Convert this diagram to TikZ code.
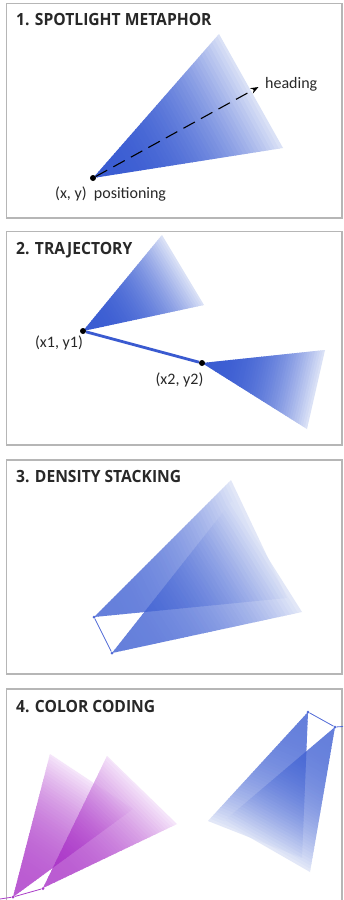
\documentclass[tikz,border=0pt]{standalone}
\usepackage{fontspec}
\setmainfont{Carlito}
\newfontfamily\titlefont{Open Sans}[FakeStretch=0.93]
\usetikzlibrary{arrows.meta}
\definecolor{framegray}{RGB}{182,182,182}
\definecolor{bluedark}{RGB}{58,92,210}
\definecolor{bluelight}{RGB}{222,228,247}
\definecolor{purpdark}{RGB}{165,40,196}
\definecolor{purplight}{RGB}{245,226,250}
\definecolor{trajblue}{RGB}{58,90,208}
\definecolor{thinblue}{RGB}{80,105,215}
\definecolor{thinpurp}{RGB}{170,60,200}
\definecolor{inkgray}{RGB}{40,40,40}
\tikzset{
  panel/.style={draw=framegray, line width=1.2pt},
  paneltitle/.style={font=\titlefont\bfseries\fontsize{16.8}{18}\selectfont, text=inkgray, inner sep=0pt, anchor=base west},
  lbl/.style={font=\fontsize{16}{18}\selectfont, text=inkgray, inner sep=0pt},
  bigdot/.style={circle, fill=black, inner sep=0pt, minimum size=6pt},
  smalldot/.style={circle, fill=#1, inner sep=0pt, minimum size=3pt},
}
% #1,#2 apex; #3,#4 and #5,#6 far corners; #7 colour prefix; #8 opacity
\newcommand\spotcone[8]{%
  \pgfmathsetmacro\spdx{(#3+#5)/2-(#1)}%
  \pgfmathsetmacro\spdy{(#2)-(#4+#6)/2}%
  \pgfmathsetmacro\spang{atan2(\spdy,\spdx)}%
  \pgfmathsetmacro\spLa{(#3-(#1))*cos(\spang)+((#2)-(#4))*sin(\spang)}%
  \pgfmathsetmacro\spLb{(#5-(#1))*cos(\spang)+((#2)-(#6))*sin(\spang)}%
  \pgfmathsetmacro\spL{max(\spLa,\spLb)}%
  \begin{scope}[transparency group, opacity=#8]
    \clip (#1,#2) -- (#3,#4) -- (#5,#6) -- cycle;
    \foreach \k in {0,...,47}{%
      \pgfmathsetmacro\spt{(\k+0.5)/48}%
      \pgfmathsetmacro\sppct{100*(\spt)^2.4}%
      \colorlet{sptmp}{#7light!\sppct!#7dark}%
      \fill[sptmp, shift={(#1,#2)}, rotate=\spang] ({\k*\spL/48-(\k==0)*5},-300) rectangle ({(\k+1)*\spL/48+0.8},300);
    }
  \end{scope}}
\begin{document}
\begin{tikzpicture}[x=1pt,y=-1pt]
\useasboundingbox (0,0) rectangle (343,900);
\fill[white] (0,0) rectangle (343,900);

% ---------- frames ----------
\draw[panel] (6.5,3.5) rectangle (342,218);
\draw[panel] (6.5,231.5) rectangle (342,445);
\draw[panel] (6.5,460) rectangle (342,674);
\draw[panel] (6.5,905) -- (6.5,689) -- (342,689) -- (342,905);

% ---------- titles ----------
\node[paneltitle] (title1) at (16,25) {1. SPOTLIGHT METAPHOR};
\node[paneltitle] (title2) at (16,254) {2. TRAJECTORY};
\node[paneltitle] (title3) at (16,482) {3. DENSITY STACKING};
\node[paneltitle] (title4) at (16,712) {4. COLOR CODING};

% ---------- panel 1 ----------
\spotcone{93}{178}{219}{34}{283}{148}{blue}{1}
\node[bigdot] (pos) at (93,178) {};
\coordinate (head) at (258.5,87);
\draw[black, line width=1.1pt, dash pattern=on 13pt off 7pt, -{Stealth[length=8pt,width=6pt]}] (pos) -- (head);
\node[lbl, anchor=west] (headlbl) at (265,84) {heading};
\node[lbl, anchor=west] (poslbl) at (55,194) {(x, y)\ \ positioning};

% ---------- panel 2 ----------
\spotcone{83}{331}{162}{235}{204}{305}{blue}{1}
\spotcone{202}{363}{325}{350}{307}{429}{blue}{1}
\node[bigdot] (xy1) at (83,331) {};
\node[bigdot] (xy2) at (202,363) {};
\draw[trajblue, line width=2.8pt] (xy1) -- (xy2);
\node[lbl] (xy1lbl) at (59,343) {(x1, y1)};
\node[lbl] (xy2lbl) at (179.5,380) {(x2, y2)};

% ---------- panel 3 ----------
\spotcone{94}{617}{231}{480}{287}{598}{blue}{0.78}
\spotcone{112}{653}{232}{501}{302}{612}{blue}{0.78}
\node[smalldot=thinblue] (d1) at (94,617) {};
\node[smalldot=thinblue] (d2) at (112,653) {};
\draw[thinblue, line width=0.8pt] (d1) -- (d2);

% ---------- panel 4 ----------
\spotcone{13}{897}{50}{754}{133}{809}{purp}{0.76}
\spotcone{43}{888}{107}{756}{177}{824}{purp}{0.76}
\spotcone{308}{712}{208}{821}{302}{858}{blue}{0.78}
\spotcone{335}{727}{223}{822}{310}{872}{blue}{0.78}
\node[smalldot=thinpurp] (c1) at (13,897) {};
\node[smalldot=thinpurp] (c2) at (43,888.5) {};
\coordinate (c0) at (0,899);
\draw[thinpurp, line width=0.8pt] (c0) -- (c1) -- (c2);
\node[smalldot=thinblue] (r1) at (308,712) {};
\node[smalldot=thinblue] (r2) at (335,727) {};
\coordinate (r3) at (343,726.5);
\draw[thinblue, line width=0.8pt] (r1) -- (r2) -- (r3);
\end{tikzpicture}
\end{document}
